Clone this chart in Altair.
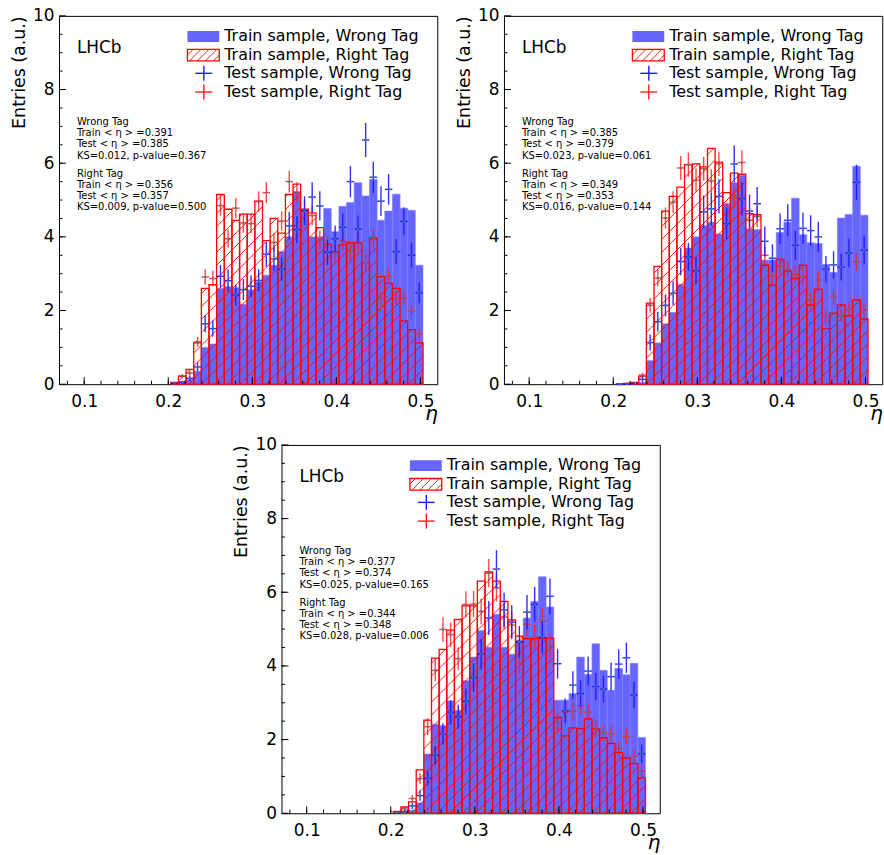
import math
import altair as alt
import pandas as pd

FONT = "DejaVu Sans"
BIN_W = 1 / 110          # bin width of the histograms
BIN_ORIGIN = 0.003       # histogram binning origin
FIRST_BIN = 22           # index of first listed bin
X_DOMAIN = [0.07, 0.52]
Y_DOMAIN = [0, 10]
W, H = 380, 370

X_TICKS = [0.1, 0.2, 0.3, 0.4, 0.5]
Y_TICKS = [0, 2, 4, 6, 8, 10]
X_MINOR = [0.08, 0.10, 0.12, 0.14, 0.16, 0.18, 0.20, 0.22, 0.24, 0.26, 0.28, 0.30,
           0.32, 0.34, 0.36, 0.38, 0.40, 0.42, 0.44, 0.46, 0.48, 0.50]
Y_MINOR = [0.5, 1, 1.5, 2, 2.5, 3, 3.5, 4, 4.5, 5, 5.5, 6, 6.5, 7, 7.5, 8, 8.5, 9, 9.5]

LEGEND_LABELS = ["Train sample, Wrong Tag", "Train sample, Right Tag",
                 "Test sample, Wrong Tag", "Test sample, Right Tag"]

# ---------------- panel 1 ----------------
P1_TRAIN_WRONG = [0.02, 0.08, 0.13, 0.35, 1.0, 1.09, 2.6, 2.65, 2.62, 2.17, 2.56, 2.78, 2.96, 3.23, 3.6, 4.0, 5.23,
                  4.7, 4.0, 4.0, 4.77, 4.14, 4.83, 4.93, 5.47, 5.11, 5.56, 4.45, 4.70, 5.16, 4.78, 4.72, 3.23]
P1_TRAIN_RIGHT = [0.05, 0.22, 0.4, 1.12, 2.6, 2.7, 5.15, 4.75, 4.45, 4.62, 4.62, 4.97, 3.9, 4.5, 4.1, 5.15, 5.43,
                  4.75, 4.65, 4.25, 3.8, 3.6, 3.78, 3.84, 3.84, 3.3, 3.97, 2.92, 2.74, 2.6, 1.72, 1.48, 1.12]
P1_TEST_WRONG = [0.02, 0.05, 0.16, 0.47, 1.64, 1.51, 2.93, 2.81, 2.42, 2.57, 2.66, 2.82, 3.53, 3.4, 3.12, 4.3, 4.2,
                 4.71, 5.08, 4.84, 3.58, 3.95, 4.26, 5.5, 4.21, 6.63, 5.62, 4.97, 5.29, 3.6, 4.42, 3.5, 2.48]
P1_TEST_RIGHT = [0.03, 0.22, 0.3, 1.15, 2.91, 2.87, 4.85, 3.95, 4.78, 4.38, 4.36, 4.96, 5.2, 3.85, 4.43, 5.5, 5.2,
                 4.72, 4.58, 3.92, 3.8, 3.55, 3.88, 3.62, 3.86, 3.31, 3.94, 2.33, 2.94, 2.34, 2.34, 1.98, 1.37]
P1_STATS = ["0.391", "0.385", "0.012", "0.367", "0.356", "0.357", "0.009", "0.500"]

# ---------------- panel 2 ----------------
P2_TRAIN_WRONG = [0, 0.01, 0.02, 0.05, 0.64, 1.12, 1.64, 1.95, 2.71, 3.7, 4.0, 4.3, 4.4, 4.08, 4.9, 5.47, 5.67,
                  4.22, 4.2, 3.37, 3.37, 4.12, 4.4, 5.05, 4.06, 3.84, 3.82, 3.25, 3.03, 4.51, 4.61, 5.92, 4.59]
P2_TRAIN_RIGHT = [0, 0.02, 0.05, 0.22, 2.2, 3.2, 4.7, 5.1, 5.35, 5.96, 5.98, 5.9, 6.4, 6.03, 5.2, 5.73, 5.7,
                  4.63, 4.6, 3.23, 2.69, 3.39, 3.07, 2.87, 3.23, 2.15, 2.58, 1.5, 1.93, 2.15, 1.86, 2.29, 1.77]
P2_TEST_WRONG = [0, 0, 0.02, 0.13, 1.13, 1.7, 2.14, 2.47, 3.33, 3.46, 3.08, 4.68, 4.76, 5.1, 4.36, 5.98, 5.04,
                 4.7, 4.9, 3.88, 3.42, 4.22, 4.45, 3.77, 4.23, 4.17, 4.0, 3.12, 3.24, 3.18, 3.56, 5.48, 3.64]
P2_TEST_RIGHT = [0, 0.02, 0.03, 0.25, 2.14, 2.88, 4.51, 4.94, 5.87, 5.96, 5.54, 5.85, 5.52, 5.98, 4.63, 5.06, 6.02,
                 4.45, 4.55, 3.5, 2.95, 3.2, 3.1, 2.98, 2.92, 2.29, 2.83, 1.84, 2.36, 1.88, 2.02, 3.32, 2.02]
P2_STATS = ["0.385", "0.379", "0.023", "0.061", "0.349", "0.353", "0.016", "0.144"]

# ---------------- panel 3 ----------------
P3_TRAIN_WRONG = [0, 0.03, 0.08, 0.28, 1.61, 2.42, 2.38, 3.05, 2.8, 3.6, 4.24, 4.96, 4.51, 5.4, 4.51, 4.32, 4.7,
                  5.3, 5.75, 6.42, 5.6, 3.07, 3.07, 3.25, 4.24, 3.77, 4.6, 3.88, 3.34, 3.93, 3.76, 4.07, 2.06]
P3_TRAIN_RIGHT = [0.05, 0.17, 0.31, 1.18, 2.53, 4.21, 4.45, 4.97, 5.26, 5.63, 5.63, 6.3, 6.55, 6.3, 5.75, 5.25, 4.81,
                  4.74, 4.75, 4.75, 4.75, 2.6, 2.1, 2.32, 2.3, 2.56, 2.3, 2.05, 1.9, 1.65, 1.5, 1.35, 0.96]
P3_TEST_WRONG = [0, 0.05, 0.2, 0.48, 0.95, 1.57, 2.15, 2.74, 2.62, 3.04, 3.68, 4.32, 5.3, 6.63, 5.52, 5.19, 4.65,
                 5.46, 5.67, 4.77, 5.89, 4.06, 2.78, 3.48, 3.25, 3.86, 3.44, 3.37, 3.71, 4.05, 4.22, 3.21, 1.61]
P3_TEST_RIGHT = [0.02, 0.12, 0.4, 0.94, 2.35, 3.88, 4.99, 4.85, 4.2, 5.67, 5.68, 5.48, 6.52, 6.12, 5.33, 5.11, 4.09,
                 5.13, 4.78, 5.23, 4.54, 2.45, 2.74, 2.77, 2.92, 2.75, 2.28, 2.18, 2.15, 1.76, 2.08, 1.55, 1.14]
P3_STATS = ["0.377", "0.374", "0.025", "0.165", "0.344", "0.348", "0.028", "0.006"]

# relative size of the statistical (sqrt N) uncertainty of the test samples: (wrong, right)
ERR_SCALE = [(0.18, 0.125), (0.205, 0.135), (0.2, 0.15)]

BLUE_FILL = "#6666ff"
BLUE_LINE = "#1a1aff"
RED_LINE = "#ff1a1a"
RED_HIST = "#ff0000"
HATCH_SPACING = 13  # px

XS = alt.Scale(domain=X_DOMAIN, nice=False, zero=False)
YS = alt.Scale(domain=Y_DOMAIN, nice=False, zero=False)
XAXIS = alt.Axis(values=X_TICKS, format=".1f", grid=False, ticks=False, tickSize=0, domain=False,
                 labelFont=FONT, labelFontSize=17, labelColor="#000", labelPadding=9, labelFlush=False,
                 labelOverlap=False, title="η", titleFont=FONT, titleFontSize=20, titleFontStyle="italic",
                 titleFontWeight="normal", titleAnchor="end", titleAlign="right", titlePadding=-6,
                 titleColor="#000")
YAXIS = alt.Axis(values=Y_TICKS, format="d", grid=False, ticks=False, tickSize=0, domain=False,
                 labelFont=FONT, labelFontSize=17, labelColor="#000", labelPadding=5, labelFlush=False,
                 labelOverlap=False, title="Entries (a.u.)", titleFont=FONT, titleFontSize=17.5,
                 titleFontWeight="normal", titleAnchor="end", titlePadding=4, titleColor="#000")

DUMMY = pd.DataFrame({"d": [0]})


def X(field):
    return alt.X(field, type="quantitative", scale=XS, axis=XAXIS)


def Y(field):
    return alt.Y(field, type="quantitative", scale=YS, axis=YAXIS)


def hatch_frame(lo, hi, vals):
    sx = W / (X_DOMAIN[1] - X_DOMAIN[0])
    sy = H / (Y_DOMAIN[1] - Y_DOMAIN[0])
    rows = []
    for l, h, v in zip(lo, hi, vals):
        if v <= 0:
            continue
        px0 = (l - X_DOMAIN[0]) * sx
        px1 = (h - X_DOMAIN[0]) * sx
        ph = v * sy
        nmin = math.floor((px0 - ph) / HATCH_SPACING) - 1
        nmax = math.ceil(px1 / HATCH_SPACING) + 1
        for n in range(nmin, nmax + 1):
            c = n * HATCH_SPACING
            xs = max(px0, c)
            xe = min(px1, ph + c)
            if xe - xs > 0.3:
                rows.append({"hx": X_DOMAIN[0] + xs / sx, "hy": (xs - c) / sy,
                             "hx2": X_DOMAIN[0] + xe / sx, "hy2": (xe - c) / sy})
    return pd.DataFrame(rows)


def decorations(stats):
    layers = []
    dummy = alt.Chart(DUMMY)
    layers.append(dummy.mark_text(text="LHCb", align="left", baseline="middle", font=FONT, fontSize=17,
                                  color="#000").encode(x=alt.value(18), y=alt.value(32)))
    lines = ["Wrong Tag", f"Train  < η > ={stats[0]}", f"Test  < η > ={stats[1]}",
             f"KS={stats[2]}, p-value={stats[3]}",
             "Right Tag", f"Train  < η > ={stats[4]}", f"Test  < η > ={stats[5]}",
             f"KS={stats[6]}, p-value={stats[7]}"]
    ys = [107, 118, 129, 140.3, 159, 169.6, 180.6, 192]
    for t, yy in zip(lines, ys):
        layers.append(dummy.mark_text(text=t, align="left", baseline="middle", font=FONT, fontSize=10,
                                      color="#000").encode(x=alt.value(18), y=alt.value(yy)))
    sx0, sx1 = 129, 161
    layers.append(dummy.mark_rect(color=BLUE_FILL).encode(
        x=alt.value(sx0), x2=alt.value(sx1), y=alt.value(15.3), y2=alt.value(26.3)))
    layers.append(dummy.mark_rect(fill="transparent", stroke=RED_HIST, strokeWidth=1.3).encode(
        x=alt.value(sx0), x2=alt.value(sx1), y=alt.value(33.7), y2=alt.value(45.3)))
    top, bot = 33.7, 45.3
    for n in range(0, 7):
        c = sx0 + bot + n * 8 - 6
        xa = max(sx0, c - bot)
        xb = min(sx1, c - top)
        if xb - xa > 0.5:
            layers.append(dummy.mark_rule(color=RED_HIST, strokeWidth=0.9).encode(
                x=alt.value(xa), y=alt.value(c - xa), x2=alt.value(xb), y2=alt.value(c - xb)))
    for yc, col in [(57.7, BLUE_LINE), (76.5, RED_LINE)]:
        layers.append(dummy.mark_rule(color=col, strokeWidth=1.4).encode(
            x=alt.value(145.5), x2=alt.value(145.5), y=alt.value(yc - 7.5), y2=alt.value(yc + 7.5)))
        layers.append(dummy.mark_rule(color=col, strokeWidth=1.4).encode(
            x=alt.value(137), x2=alt.value(154), y=alt.value(yc), y2=alt.value(yc)))
    for lab, yy in zip(LEGEND_LABELS, [20.5, 39.3, 57.8, 76.4]):
        layers.append(dummy.mark_text(text=lab, align="left", baseline="middle", font=FONT, fontSize=16,
                                      color="#000").encode(x=alt.value(166), y=alt.value(yy)))
    return layers


def ticks_layers():
    xt_major = pd.DataFrame({"t": X_TICKS})
    xt_minor = pd.DataFrame({"t": X_MINOR})
    yt_major = pd.DataFrame({"t": Y_TICKS})
    yt_minor = pd.DataFrame({"t": Y_MINOR})
    return [
        alt.Chart(xt_minor).mark_rule(color="#000", strokeWidth=1).encode(
            x=X("t"), y=alt.value(H), y2=alt.value(H - 3.5)),
        alt.Chart(xt_major).mark_rule(color="#000", strokeWidth=1).encode(
            x=X("t"), y=alt.value(H), y2=alt.value(H - 7)),
        alt.Chart(yt_minor).mark_rule(color="#000", strokeWidth=1).encode(
            y=Y("t"), x=alt.value(0), x2=alt.value(3.5)),
        alt.Chart(yt_major).mark_rule(color="#000", strokeWidth=1).encode(
            y=Y("t"), x=alt.value(0), x2=alt.value(7)),
    ]


def panel(tw, tr, sw, sr, stats, errs):
    lo = [BIN_ORIGIN + (FIRST_BIN + i) * BIN_W for i in range(len(tw))]
    hi = [l + BIN_W for l in lo]
    mid = [l + BIN_W / 2 for l in lo]
    df = pd.DataFrame({"lo": lo, "hi": hi, "mid": mid, "tw": tw, "tr": tr, "sw": sw, "sr": sr})
    ew, er = errs
    base = alt.Chart(df).transform_calculate(
        swlo=f"datum.sw - {ew}*sqrt(datum.sw)", swhi=f"datum.sw + {ew}*sqrt(datum.sw)",
        srlo=f"datum.sr - {er}*sqrt(datum.sr)", srhi=f"datum.sr + {er}*sqrt(datum.sr)")

    blue_bars = base.mark_rect(color=BLUE_FILL, stroke="#7f7fff", strokeWidth=0.6).encode(
        x=X("lo"), x2="hi", y=Y("tw"), y2=alt.datum(0))
    red_bars = base.mark_rect(fill="transparent", stroke=RED_HIST, strokeWidth=1.3).encode(
        x=X("lo"), x2="hi", y=Y("tr"), y2=alt.datum(0))
    hatch = alt.Chart(hatch_frame(lo, hi, tr)).mark_rule(color=RED_HIST, strokeWidth=0.9).encode(
        x=X("hx"), y=Y("hy"), x2="hx2", y2="hy2")

    layers = [blue_bars, red_bars, hatch]
    for val, elo, ehi, col, op in [("sr", "srlo", "srhi", RED_LINE, 0.8), ("sw", "swlo", "swhi", BLUE_LINE, 0.9)]:
        layers.append(base.mark_rule(color=col, strokeWidth=1.4, opacity=op).encode(
            x=X("mid"), y=Y(elo), y2=ehi))
        layers.append(base.mark_rule(color=col, strokeWidth=1.4, opacity=op).encode(
            x=X("lo"), x2="hi", y=Y(val)))
        layers.append(base.mark_square(size=4, color="#3f7f80", opacity=0.9).encode(
            x=X("mid"), y=Y(val)))
    layers += ticks_layers()
    layers += decorations(stats)
    return alt.layer(*layers).properties(width=W, height=H)


p1 = panel(P1_TRAIN_WRONG, P1_TRAIN_RIGHT, P1_TEST_WRONG, P1_TEST_RIGHT, P1_STATS, ERR_SCALE[0])
p2 = panel(P2_TRAIN_WRONG, P2_TRAIN_RIGHT, P2_TEST_WRONG, P2_TEST_RIGHT, P2_STATS, ERR_SCALE[1])
p3 = panel(P3_TRAIN_WRONG, P3_TRAIN_RIGHT, P3_TEST_WRONG, P3_TEST_RIGHT, P3_STATS, ERR_SCALE[2])

top_row = alt.hconcat(p1, p2, spacing=16)
chart = alt.vconcat(top_row, p3, spacing=11, center=True).properties(
    padding={"left": 10, "top": 4, "right": 1, "bottom": 4},
    background="white",
).configure_view(stroke="#000", strokeWidth=1)

chart.save("out.html", embed_options={"renderer": "svg", "actions": False})
